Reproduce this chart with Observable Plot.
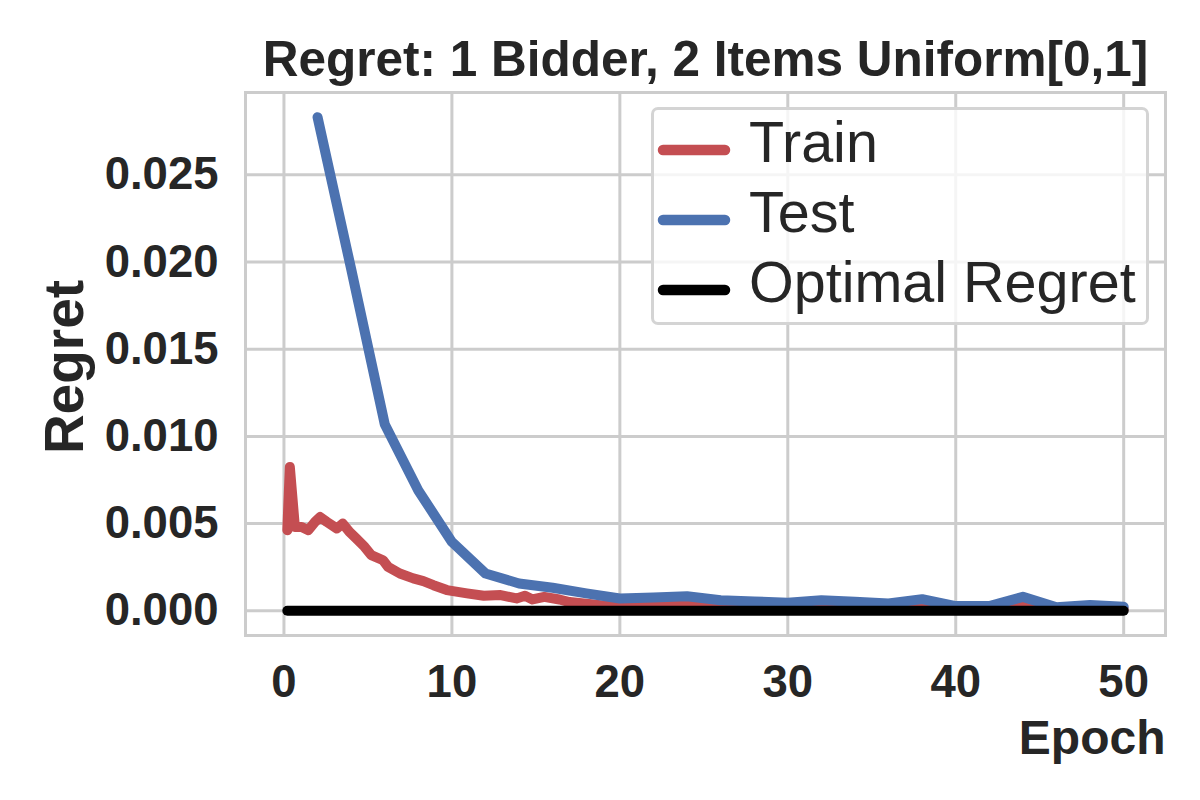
<!DOCTYPE html>
<html>
<head>
<meta charset="utf-8">
<script src="https://cdn.jsdelivr.net/npm/d3@7"></script>
<script src="https://cdn.jsdelivr.net/npm/@observablehq/plot@0.6"></script>
<style>
  html, body { margin: 0; padding: 0; background: #ffffff; }
  #wrap { position: relative; width: 1200px; height: 800px; }
  #legend { position: absolute; left: 651px; top: 107px; width: 498px; height: 218px;
            box-sizing: border-box; border: 3px solid #d4d4d4; border-radius: 7px;
            background: rgba(255,255,255,0.8); }
  #legend svg { position: absolute; left: -3px; top: -3px; overflow: visible; }
</style>
</head>
<body>
<div id="wrap"><div id="legend"></div></div>
<script>
// ---- data ----
const titleText = "Regret: 1 Bidder, 2 Items Uniform[0,1]";
const xLabel = "Epoch";
const yLabel = "Regret";
const xTicks = [0, 10, 20, 30, 40, 50];
const yTicks = [0, 0.005, 0.01, 0.015, 0.02, 0.025];

const trainEpoch = [0.2, 0.35, 0.65, 1.05, 1.45, 1.85, 2.15, 2.55, 3.15, 3.5, 3.9, 4.3, 4.8, 5.2, 5.9, 6.2, 6.9, 7.7, 8.3, 8.9, 9.7, 10.9, 11.9, 12.9, 13.85, 14.35, 14.8, 15.5, 16.4, 17, 18, 19, 20, 22, 24, 25, 26, 28, 30, 32, 34, 36, 38, 40, 42, 44, 46, 48, 50];
const trainRegret = [0.00462, 0.00825, 0.00481, 0.0048, 0.00462, 0.0051, 0.00538, 0.0051, 0.00472, 0.005, 0.00452, 0.00415, 0.00367, 0.00319, 0.0029, 0.00252, 0.00214, 0.00186, 0.0017, 0.00147, 0.00119, 0.001, 0.00086, 0.0009, 0.00071, 0.00086, 0.00065, 0.0008, 0.00065, 0.0005, 0.0004, 0.0003, 0.00025, 0.00025, 0.0003, 0.00025, 0.0002, 0.00015, 0.00015, 0.0002, 0.00015, 0.00012, 0.00015, 0.0001, 0.0001, 0.00025, 0.0001, 0.0001, 0.0001];

const testEpoch = [2, 4, 6, 8, 10, 12, 14, 16, 18, 20, 22, 24, 26, 28, 30, 32, 34, 36, 38, 40, 42, 44, 46, 48, 50];
const testRegret = [0.0283, 0.0196, 0.0107, 0.0069, 0.00395, 0.00214, 0.00157, 0.00132, 0.001, 0.00071, 0.00077, 0.00084, 0.00061, 0.00054, 0.00046, 0.00061, 0.00052, 0.00042, 0.00067, 0.00027, 0.00027, 0.0008, 0.0002, 0.00033, 0.00023];

const optimalEpoch = [0.2, 50];
const optimalRegret = [0, 0];

const seriesNames = ["Train", "Test", "Optimal Regret"];
const seriesColors = ["#C44E52", "#4C72B0", "#000000"];

// ---- tables ----
const train = trainEpoch.map((e, i) => ({epoch: e, regret: trainRegret[i]}));
const test = testEpoch.map((e, i) => ({epoch: e, regret: testRegret[i]}));
const optimal = optimalEpoch.map((e, i) => ({epoch: e, regret: optimalRegret[i]}));

const lineStyle = {x: "epoch", y: "regret", strokeWidth: 10, strokeLinecap: "round", strokeLinejoin: "round"};
const gridStyle = {stroke: "#cccccc", strokeOpacity: 1, strokeWidth: 3};

const chart = Plot.plot({
  width: 1200,
  height: 800,
  marginLeft: 245,
  marginRight: 35,
  marginTop: 92,
  marginBottom: 165,
  x: {domain: [-2.29, 52.49]},
  y: {domain: [-0.001415, 0.029715]},
  style: {fontFamily: "'Liberation Sans', Arial, sans-serif", fontWeight: "bold", fontSize: "45px", color: "#262626", background: "white", overflow: "visible"},
  marks: [
    Plot.gridX({ticks: xTicks, ...gridStyle}),
    Plot.gridY({ticks: yTicks, ...gridStyle}),
    Plot.frame({stroke: "#cccccc", strokeWidth: 3}),
    Plot.axisX({ticks: xTicks, tickSize: 0, tickPadding: 29, label: null, fontSize: 45.5, fontWeight: "bold"}),
    Plot.axisY({ticks: yTicks, tickSize: 0, tickPadding: 27, tickFormat: d3.format(".3f"), label: null, fontSize: 45.5, fontWeight: "bold"}),
    Plot.line(train, {...lineStyle, stroke: seriesColors[0]}),
    Plot.line(test, {...lineStyle, stroke: seriesColors[1]}),
    Plot.line(optimal, {...lineStyle, stroke: seriesColors[2]}),
    Plot.text([titleText], {text: d => d, frameAnchor: "top", textAnchor: "middle", lineAnchor: "bottom", dy: -17, fontSize: 49.5, fontWeight: "bold", fill: "#262626"}),
    Plot.text([yLabel], {text: d => d, frameAnchor: "left", textAnchor: "middle", rotate: -90, lineAnchor: "bottom", dx: -163, dy: 3, fontSize: 55, fontWeight: "bold", fill: "#262626"}),
    Plot.text([xLabel], {text: d => d, frameAnchor: "bottom-right", textAnchor: "end", lineAnchor: "bottom", dy: 118, fontSize: 48, fontWeight: "bold", fill: "#262626"})
  ]
});
document.getElementById("wrap").prepend(chart);

// ---- legend ----
const leg = d3.select("#legend").append("svg").attr("width", 498).attr("height", 218);
seriesNames.forEach((name, i) => {
  const cy = 43 + i * 70;
  leg.append("line")
    .attr("x1", 12).attr("x2", 74).attr("y1", cy).attr("y2", cy)
    .attr("stroke", seriesColors[i]).attr("stroke-width", 10.5).attr("stroke-linecap", "round");
  leg.append("text")
    .attr("x", 98).attr("y", cy + 12)
    .attr("font-family", "'Liberation Sans', Arial, sans-serif")
    .attr("font-size", 57.5).attr("fill", "#262626")
    .text(name);
});
</script>
</body>
</html>
